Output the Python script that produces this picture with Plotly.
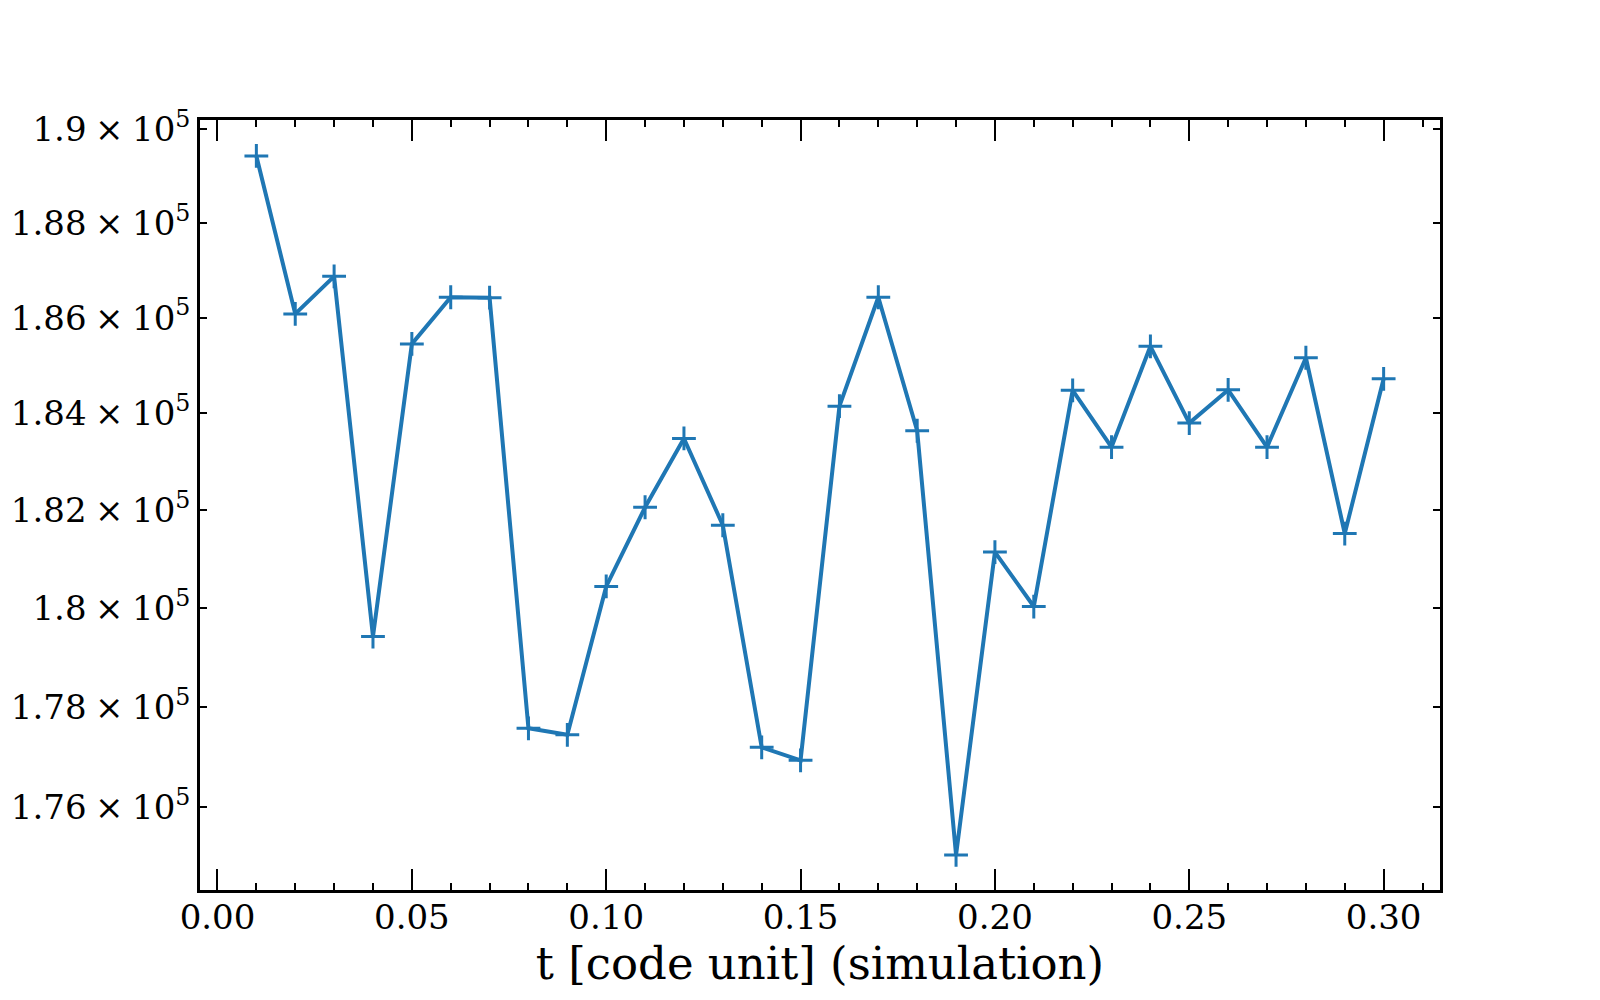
import plotly.graph_objects as go

t_values = [0.01, 0.02, 0.03, 0.04, 0.05, 0.06, 0.07, 0.08, 0.09, 0.10,
            0.11, 0.12, 0.13, 0.14, 0.15, 0.16, 0.17, 0.18, 0.19, 0.20,
            0.21, 0.22, 0.23, 0.24, 0.25, 0.26, 0.27, 0.28, 0.29, 0.30]
y_values = [1.8943e5, 1.8608e5, 1.8687e5, 1.7942e5, 1.8545e5, 1.8643e5, 1.8642e5, 1.7757e5, 1.7744e5, 1.8044e5,
            1.8206e5, 1.8348e5, 1.8169e5, 1.7719e5, 1.7693e5, 1.8415e5, 1.8643e5, 1.8364e5, 1.7505e5, 1.8114e5,
            1.8003e5, 1.8448e5, 1.8330e5, 1.8540e5, 1.8380e5, 1.8449e5, 1.8330e5, 1.8516e5, 1.8152e5, 1.8472e5]

x_tick_vals = [0.00, 0.05, 0.10, 0.15, 0.20, 0.25, 0.30]
x_tick_text = ["0.00", "0.05", "0.10", "0.15", "0.20", "0.25", "0.30"]
y_tick_vals = [1.76e5, 1.78e5, 1.80e5, 1.82e5, 1.84e5, 1.86e5, 1.88e5, 1.90e5]
y_tick_mant = ["1.76", "1.78", "1.8", "1.82", "1.84", "1.86", "1.88", "1.9"]
y_tick_text = [m + "\u2005×\u200510<sup>5</sup>" for m in y_tick_mant]

x_label = "t [code unit] (simulation)"

blue = "#1f77b4"
font_family = "DejaVu Serif"

fig = go.Figure()
fig.add_trace(go.Scatter(
    x=t_values, y=y_values, mode="lines+markers",
    line=dict(color=blue, width=4),
    marker=dict(symbol="cross-thin", size=17, line=dict(color=blue, width=3)),
    showlegend=False,
))

fig.update_layout(
    width=1600, height=1000,
    margin=dict(l=200, r=160, t=120, b=110),
    paper_bgcolor="white", plot_bgcolor="white",
    font=dict(family=font_family, size=34, color="black"),
    xaxis=dict(
        range=[-0.0045, 0.3145],
        tickvals=x_tick_vals, ticktext=x_tick_text,
        ticks="inside", ticklen=21, tickwidth=1.8, tickcolor="black",
        showline=True, linecolor="black", linewidth=2.5, mirror="allticks",
        showgrid=False, zeroline=False, automargin=False,
        ticklabelstandoff=-5,
        tickfont=dict(family=font_family, size=34, color="black"),
        minor=dict(dtick=0.01, tick0=0, ticks="inside", ticklen=7, tickwidth=1.5, tickcolor="black", showgrid=False),
        title=dict(text=x_label, font=dict(family=font_family, size=45, color="black"), standoff=12),
    ),
    yaxis=dict(
        type="log",
        range=[5.24144, 5.27921],
        tickvals=y_tick_vals, ticktext=y_tick_text,
        ticks="inside", ticklen=7, tickwidth=1.5, tickcolor="black",
        showline=True, linecolor="black", linewidth=2.5, mirror="allticks",
        showgrid=False, zeroline=False, automargin=False,
        tickfont=dict(family=font_family, size=34, color="black"),
    ),
)

fig.write_html("out.html")
